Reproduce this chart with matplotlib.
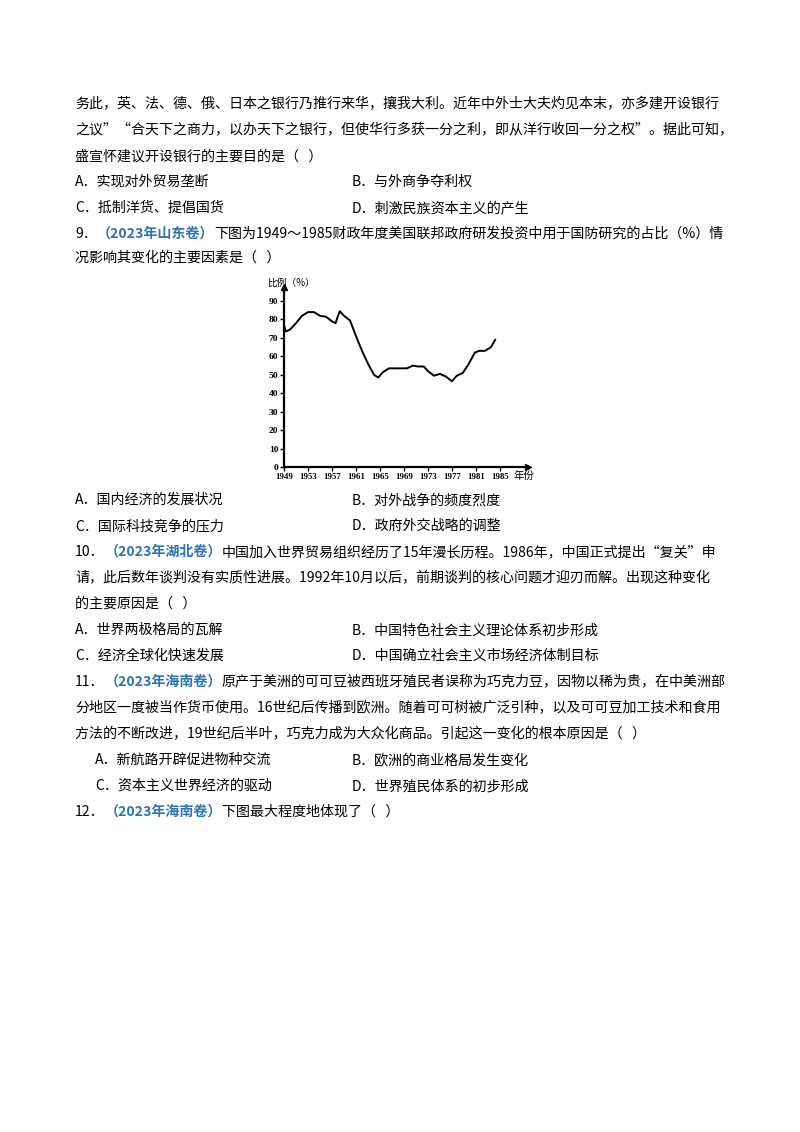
import matplotlib
matplotlib.use("Agg")
import matplotlib.pyplot as plt

plt.rcParams['font.family'] = ['Noto Sans CJK SC', 'DejaVu Sans']

years = [1949, 1949.3, 1950, 1951, 1952, 1953, 1954, 1955, 1956, 1957, 1957.6, 1958, 1958.3, 1959, 1960,
         1961, 1962, 1963, 1964, 1964.7, 1965.5, 1966.5, 1967.5, 1968.5, 1969.5, 1970.5, 1971.3, 1972.3, 1973,
         1974, 1975, 1976, 1977, 1977.8, 1978.8, 1979.8, 1980.8, 1981.5, 1982.5, 1983.5, 1984.2]
share = [77, 73.5, 74.5, 78, 82, 84, 84, 82, 81.5, 79, 78, 82, 84.5, 82, 79.5,
         71, 63, 56, 50, 48.5, 51.5, 53.5, 53.5, 53.5, 53.5, 55, 54.5, 54.5, 52,
         49.5, 50.5, 49, 46.5, 49.5, 51, 56, 62, 63, 63, 65, 69]
xticks = [1949, 1953, 1957, 1961, 1965, 1969, 1973, 1977, 1981, 1985]
yticks = [0, 10, 20, 30, 40, 50, 60, 70, 80, 90]

W, H = 800, 1132
fig = plt.figure(figsize=(8, 11.32), dpi=100)
blue = '#2F74B5'
fs = 10.1

r = fig.canvas.get_renderer()
def line(x, y, parts):
    for txt, col, bold in parts:
        t = fig.text(x / W, 1 - y / H, txt, fontsize=fs, color=col,
                     fontweight='bold' if bold else 'normal', va='center', ha='left')
        bb = t.get_window_extent(renderer=r)
        x += bb.width
def plain(x, y, s):
    line(x, y, [(s, 'black', False)])
def q(y, num, src, rest):
    line(75, y, [(num, 'black', False), ('（' + src + '）', blue, True), (rest, 'black', False)])

plain(75, 104, '务此，英、法、德、俄、日本之银行乃推行来华，攘我大利。近年中外士大夫灼见本末，亦多建开设银行')
plain(75, 130, '之议”“合天下之商力，以办天下之银行，但使华行多获一分之利，即从洋行收回一分之权”。据此可知，')
plain(75, 156, '盛宣怀建议开设银行的主要目的是（   ）')
plain(75, 182, 'A．实现对外贸易垄断'); plain(352, 182, 'B．与外商争夺利权')
plain(75, 208, 'C．抵制洋货、提倡国货'); plain(352, 208, 'D．刺激民族资本主义的产生')
q(234, '9．', '2023年山东卷', '下图为1949～1985财政年度美国联邦政府研发投资中用于国防研究的占比（%）情')
plain(75, 258, '况影响其变化的主要因素是（   ）')
plain(75, 500, 'A．国内经济的发展状况'); plain(352, 500, 'B．对外战争的频度烈度')
plain(75, 526, 'C．国际科技竞争的压力'); plain(352, 526, 'D．政府外交战略的调整')
q(552, '10．', '2023年湖北卷', '中国加入世界贸易组织经历了15年漫长历程。1986年，中国正式提出“复关”申')
plain(75, 578, '请，此后数年谈判没有实质性进展。1992年10月以后，前期谈判的核心问题才迎刃而解。出现这种变化')
plain(75, 604, '的主要原因是（   ）')
plain(75, 630, 'A．世界两极格局的瓦解'); plain(352, 630, 'B．中国特色社会主义理论体系初步形成')
plain(75, 656, 'C．经济全球化快速发展'); plain(352, 656, 'D．中国确立社会主义市场经济体制目标')
q(682, '11．', '2023年海南卷', '原产于美洲的可可豆被西班牙殖民者误称为巧克力豆，因物以稀为贵，在中美洲部')
plain(75, 708, '分地区一度被当作货币使用。16世纪后传播到欧洲。随着可可树被广泛引种，以及可可豆加工技术和食用')
plain(75, 734, '方法的不断改进，19世纪后半叶，巧克力成为大众化商品。引起这一变化的根本原因是（   ）')
plain(95, 760, 'A．新航路开辟促进物种交流'); plain(352, 760, 'B．欧洲的商业格局发生变化')
plain(95, 786, 'C．资本主义世界经济的驱动'); plain(352, 786, 'D．世界殖民体系的初步形成')
q(812, '12．', '2023年海南卷', '下图最大程度地体现了（   ）')

# chart
left, right, bottom, top = 284, 528, 467, 287
ax = fig.add_axes([left / W, 1 - bottom / H, (right - left) / W, (bottom - top) / H])
ax.plot(years, share, color='black', lw=1.4)
ax.set_xlim(1949, 1949 + (right - left) / 6.0)
ax.set_ylim(0, (bottom - top) / 1.844)
ax.spines['top'].set_visible(False); ax.spines['right'].set_visible(False)
for s in ['left', 'bottom']:
    ax.spines[s].set_linewidth(1.6)
ax.plot(1, 0, '>k', ms=4, transform=ax.transAxes, clip_on=False)
ax.plot(0, 1, '^k', ms=4, transform=ax.transAxes, clip_on=False)
ax.set_xticks(xticks)
ax.set_xticklabels([str(v) for v in xticks], fontsize=6.3, fontweight='bold', family='Liberation Serif')
ax.set_yticks(yticks)
ax.set_yticklabels([str(v) for v in yticks], fontsize=6.8, fontweight='bold', family='Liberation Serif')
ax.tick_params(length=3, width=1, pad=1)
ax.set_facecolor('none')
fig.text(267 / W, 1 - 283 / H, '比例（%）', fontsize=7, va='center')
fig.text(514 / W, 1 - 476 / H, '年份', fontsize=7.5, va='center')

fig.savefig('out.png', dpi=100)
